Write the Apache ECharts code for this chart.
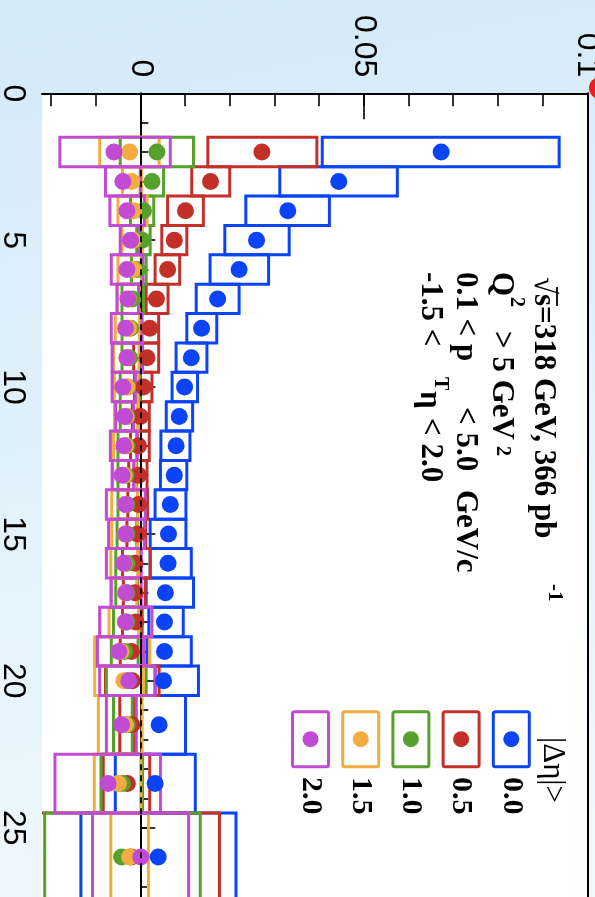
<!DOCTYPE html>
<html>
<head>
<meta charset="utf-8">
<script src="https://cdn.jsdelivr.net/npm/echarts@6/dist/echarts.min.js"></script>
<style>
  html, body { margin: 0; padding: 0; background: #ffffff; }
  #chart { width: 595px; height: 897px; }
</style>
</head>
<body>
<div id="chart"></div>
<script>
// Multiplicity bins: centres and edges
const binCenters = [2, 3, 4, 5, 6, 7, 8, 9, 10, 11, 12, 13, 14, 15, 16, 17, 18, 19, 20, 21.5, 23.5, 26];
const binLow     = [1.5, 2.5, 3.5, 4.5, 5.5, 6.5, 7.5, 8.5, 9.5, 10.5, 11.5, 12.5, 13.5, 14.5, 15.5, 16.5, 17.5, 18.5, 19.5, 20.5, 22.5, 24.5];
const binHigh    = [2.5, 3.5, 4.5, 5.5, 6.5, 7.5, 8.5, 9.5, 10.5, 11.5, 12.5, 13.5, 14.5, 15.5, 16.5, 17.5, 18.5, 19.5, 20.5, 22.5, 24.5, 27.5];

// Rapidity-gap selections |Δη| >
const gapLabels = ['0.0', '0.5', '1.0', '1.5', '2.0'];
const gapColors = ['#0a44f6', '#c3302a', '#55a12b', '#f2ac40', '#c24bd3'];

// |Δη| > 0.0
const val00   = [0.0673, 0.0444, 0.0330, 0.0260, 0.0221, 0.0173, 0.0137, 0.0114, 0.0099, 0.0087, 0.0080, 0.0076, 0.0067, 0.0063, 0.0062, 0.0056, 0.0054, 0.0054, 0.0052, 0.0042, 0.0033, 0.0040];
const sysLo00 = [0.0407, 0.0312, 0.0236, 0.0189, 0.0156, 0.0125, 0.0104, 0.0080, 0.0071, 0.0058, 0.0046, 0.0045, 0.0033, 0.0022, 0.0022, 0.0013, 0.0019, 0.0015, 0.0033, -0.0015, -0.0056, -0.0133];
const sysHi00 = [0.0937, 0.0575, 0.0423, 0.0333, 0.0287, 0.0221, 0.0171, 0.0149, 0.0128, 0.0117, 0.0111, 0.0104, 0.0102, 0.0102, 0.0114, 0.0119, 0.0096, 0.0114, 0.0130, 0.0101, 0.0123, 0.0214];

// |Δη| > 0.5
const val05   = [0.0272, 0.0157, 0.0101, 0.0076, 0.0061, 0.0036, 0.0021, 0.0015, 0.0007, 0.0000, -0.0004, -0.0004, -0.0004, -0.0006, -0.0012, -0.0012, -0.0010, -0.0020, -0.0018, -0.0019, -0.0029, -0.0020];
const sysLo05 = [0.0151, 0.0115, 0.0061, 0.0048, 0.0033, 0.0013, 0.0000, -0.0015, -0.0013, -0.0018, -0.0022, -0.0026, -0.0028, -0.0030, -0.0040, -0.0038, -0.0040, -0.0045, -0.0078, -0.0046, -0.0083, -0.0250];
const sysHi05 = [0.0395, 0.0200, 0.0141, 0.0104, 0.0088, 0.0062, 0.0041, 0.0041, 0.0026, 0.0020, 0.0020, 0.0015, 0.0016, 0.0012, 0.0022, 0.0011, 0.0004, 0.0008, 0.0042, -0.0011, 0.0021, 0.0177];

// |Δη| > 1.0
const val10   = [0.0037, 0.0026, 0.0007, 0.0004, -0.0007, -0.0018, -0.0022, -0.0024, -0.0028, -0.0030, -0.0030, -0.0032, -0.0030, -0.0030, -0.0030, -0.0030, -0.0030, -0.0035, -0.0030, -0.0029, -0.0040, -0.0042];
const sysLo10 = [-0.0045, 0.0000, -0.0022, -0.0008, -0.0020, -0.0041, -0.0041, -0.0041, -0.0045, -0.0045, -0.0050, -0.0050, -0.0050, -0.0052, -0.0055, -0.0055, -0.0060, -0.0065, -0.0076, -0.0060, -0.0088, -0.0214];
const sysHi10 = [0.0119, 0.0052, 0.0030, 0.0022, 0.0013, 0.0007, 0.0000, 0.0005, 0.0000, -0.0005, -0.0008, -0.0008, -0.0006, -0.0008, -0.0005, -0.0006, 0.0000, -0.0005, 0.0013, -0.0018, 0.0005, 0.0134];

// |Δη| > 1.5
const val15   = [-0.0024, -0.0019, -0.0015, -0.0016, -0.0015, -0.0027, -0.0026, -0.0030, -0.0030, -0.0032, -0.0033, -0.0036, -0.0034, -0.0034, -0.0036, -0.0034, -0.0034, -0.0043, -0.0037, -0.0033, -0.0049, -0.0024];
const sysLo15 = [-0.0091, -0.0040, -0.0050, -0.0041, -0.0050, -0.0052, -0.0056, -0.0060, -0.0058, -0.0058, -0.0060, -0.0062, -0.0064, -0.0064, -0.0066, -0.0066, -0.0070, -0.0102, -0.0102, -0.0094, -0.0103, -0.0066];
const sysHi15 = [0.0042, 0.0003, 0.0015, 0.0005, 0.0002, -0.0002, -0.0002, -0.0003, -0.0005, -0.0006, -0.0006, -0.0010, -0.0006, -0.0006, -0.0006, -0.0008, -0.0004, 0.0021, 0.0007, 0.0004, 0.0001, 0.0018];

// |Δη| > 2.0
const val20   = [-0.0059, -0.0039, -0.0030, -0.0022, -0.0030, -0.0028, -0.0033, -0.0030, -0.0039, -0.0035, -0.0037, -0.0041, -0.0033, -0.0033, -0.0037, -0.0032, -0.0033, -0.0048, -0.0026, -0.0042, -0.0072, 0.0001];
const sysLo20 = [-0.0180, -0.0078, -0.0068, -0.0045, -0.0065, -0.0052, -0.0065, -0.0063, -0.0063, -0.0055, -0.0067, -0.0063, -0.0076, -0.0071, -0.0076, -0.0065, -0.0091, -0.0096, -0.0091, -0.0076, -0.0191, -0.0107];
const sysHi20 = [0.0067, 0.0000, 0.0009, -0.0002, 0.0006, -0.0004, 0.0004, 0.0004, -0.0011, -0.0015, -0.0007, -0.0015, 0.0011, 0.0009, 0.0002, 0.0002, 0.0026, 0.0007, 0.0033, -0.0009, 0.0045, 0.0108];

// Axis ticks
const xMajorTicks = [0, 0.05, 0.1];
const xMinorTicks = [-0.02, -0.01, 0, 0.01, 0.02, 0.03, 0.04, 0.05, 0.06, 0.07, 0.08, 0.09, 0.1];
const yMajorTicks = [0, 5, 10, 15, 20, 25];
const yMinorTicks = [0, 1, 2, 3, 4, 5, 6, 7, 8, 9, 10, 11, 12, 13, 14, 15, 16, 17, 18, 19, 20, 21, 22, 23, 24, 25, 26, 27];

const X_MIN = -0.022, X_MAX = 0.1;
const Y_MIN = 0, Y_MAX = 27.36;

const allVals = [val00, val05, val10, val15, val20];
const allLo = [sysLo00, sysLo05, sysLo10, sysLo15, sysLo20];
const allHi = [sysHi00, sysHi05, sysHi10, sysHi15, sysHi20];

const SANS = '"Liberation Sans", Arial, sans-serif';
const SERIF = '"Liberation Serif", "Times New Roman", serif';

// systematic boxes: one rectangle per bin spanning the bin width
function boxSeries(k) {
  const data = binCenters.map((c, i) => [allLo[k][i], allHi[k][i], binLow[i], binHigh[i]]);
  return {
    type: 'custom',
    name: gapLabels[k] + ' box',
    z: 2,
    clip: true,
    silent: true,
    encode: { x: [0, 1], y: [2, 3] },
    data: data,
    renderItem: function (params, api) {
      const p0 = api.coord([api.value(0), api.value(2)]);
      const p1 = api.coord([api.value(1), api.value(3)]);
      return {
        type: 'rect',
        shape: { x: p0[0], y: p0[1], width: p1[0] - p0[0], height: p1[1] - p0[1] },
        style: { fill: 'none', stroke: gapColors[k], lineWidth: 3 }
      };
    }
  };
}

function pointSeries(k) {
  return {
    type: 'scatter',
    name: gapLabels[k],
    z: 4,
    symbol: 'circle',
    symbolSize: 17,
    itemStyle: { color: gapColors[k], opacity: 1 },
    silent: true,
    data: binCenters.map((c, i) => [allVals[k][i], c])
  };
}

const series = [];
for (let k = 0; k < 5; k++) series.push(boxSeries(k));
// dashed reference line at zero
series.push({
  type: 'scatter', z: 3, data: [], silent: true,
  markLine: {
    silent: true, symbol: ['none', 'none'], label: { show: false },
    lineStyle: { color: '#000', type: [6, 5], width: 1.8 },
    data: [{ xAxis: 0 }]
  }
});
for (let k = 0; k < 5; k++) series.push(pointSeries(k));

// rotated text helper (reads top to bottom)
function vtext(str, x, y, size, weight, family) {
  return {
    type: 'text', x: x, y: y, rotation: -Math.PI / 2, z: 10, silent: true,
    style: {
      text: str, fill: '#000', fontSize: size, fontWeight: weight || 'normal',
      fontFamily: family || SERIF, align: 'left', verticalAlign: 'middle'
    }
  };
}

const graphics = [
  // kinematic selection
  vtext('√s=318 GeV, 366 pb', 543, 277, 31, 'bold'),
  { type: 'line', z: 10, silent: true, shape: { x1: 557, y1: 287, x2: 557, y2: 306 }, style: { stroke: '#000', lineWidth: 1.8 } },
  vtext('-1', 554, 584, 21, 'bold'),
  vtext('Q', 501, 272, 31, 'bold'),
  vtext('2', 516, 297, 20, 'bold'),
  vtext('> 5 GeV', 501, 331, 31, 'bold'),
  vtext('2', 502, 446, 20, 'bold'),
  vtext('0.1 < p', 465, 272, 31, 'bold'),
  vtext('T', 440, 377, 20, 'bold'),
  vtext('< 5.0', 465, 407, 31, 'bold'),
  vtext('GeV/c', 465, 490, 31, 'bold'),
  vtext('-1.5 <', 430, 272, 31, 'bold'),
  vtext('η', 429, 391, 31, 'bold'),
  vtext('< 2.0', 430, 418, 31, 'bold'),
  // legend title
  vtext('|Δη|>', 552, 737, 31, 'normal'),
  // red marker outside the frame
  { type: 'circle', shape: { cx: 600, cy: 88, r: 11 }, style: { fill: '#e61e26' }, z: 10, silent: true }
];

// legend entries
for (let k = 0; k < 5; k++) {
  const left = 493.3 - k * 50.2;
  graphics.push({
    type: 'rect', z: 10, silent: true,
    shape: { x: left, y: 711.7, width: 36, height: 55, r: 2 },
    style: { fill: '#fff', stroke: gapColors[k], lineWidth: 3 }
  });
  graphics.push({
    type: 'circle', z: 11, silent: true,
    shape: { cx: left + 18, cy: 739.2, r: 8 },
    style: { fill: gapColors[k] }
  });
  graphics.push(vtext(gapLabels[k], left + 18, 777, 30, 'bold'));
}

const chart = echarts.init(document.getElementById('chart'), null, { renderer: 'canvas' });
chart.setOption({
  animation: false,
  backgroundColor: {
    type: 'linear', x: 0, y: 0, x2: 0.3, y2: 1,
    colorStops: [{ offset: 0, color: '#d3eaf8' }, { offset: 1, color: '#eff8fd' }]
  },
  grid: {
    left: 42, top: 93.3, right: 7.7, bottom: 0,
    outerBoundsMode: 'none', containLabel: false,
    show: true, backgroundColor: '#ffffff', borderWidth: 0
  },
  xAxis: [
    {
      type: 'value', position: 'top', min: X_MIN, max: X_MAX,
      axisLine: { show: true, lineStyle: { color: '#000', width: 2 } },
      axisTick: { show: true, inside: true, length: 13, customValues: xMinorTicks, lineStyle: { color: '#000', width: 1.6 } },
      axisLabel: { show: false },
      splitLine: { show: false }
    },
    {
      type: 'value', position: 'top', min: X_MIN, max: X_MAX,
      axisLine: { show: false },
      axisTick: { show: true, inside: true, length: 26, customValues: xMajorTicks, lineStyle: { color: '#000', width: 1.6 } },
      axisLabel: {
        show: true, customValues: xMajorTicks, rotate: -90, margin: 16,
        fontSize: 32, fontFamily: SANS, color: '#000',
        formatter: v => String(+v.toFixed(3))
      },
      splitLine: { show: false }
    }
  ],
  yAxis: [
    {
      type: 'value', position: 'left', inverse: true, min: Y_MIN, max: Y_MAX,
      axisLine: { show: true, lineStyle: { color: '#000', width: 2 } },
      axisTick: { show: true, inside: true, length: 8, customValues: yMinorTicks, lineStyle: { color: '#000', width: 1.6 } },
      axisLabel: { show: false },
      splitLine: { show: false }
    },
    {
      type: 'value', position: 'left', inverse: true, min: Y_MIN, max: Y_MAX,
      axisLine: { show: false },
      axisTick: { show: true, inside: true, length: 15, customValues: yMajorTicks, lineStyle: { color: '#000', width: 1.6 } },
      axisLabel: {
        show: true, customValues: yMajorTicks, rotate: -90, margin: 13,
        fontSize: 32, fontFamily: SANS, color: '#000'
      },
      splitLine: { show: false }
    },
    {
      type: 'value', position: 'right', inverse: true, min: Y_MIN, max: Y_MAX,
      axisLine: { show: true, lineStyle: { color: '#000', width: 2 } },
      axisTick: { show: false }, axisLabel: { show: false }, splitLine: { show: false }
    }
  ],
  series: series,
  graphic: graphics
});
</script>
</body>
</html>
